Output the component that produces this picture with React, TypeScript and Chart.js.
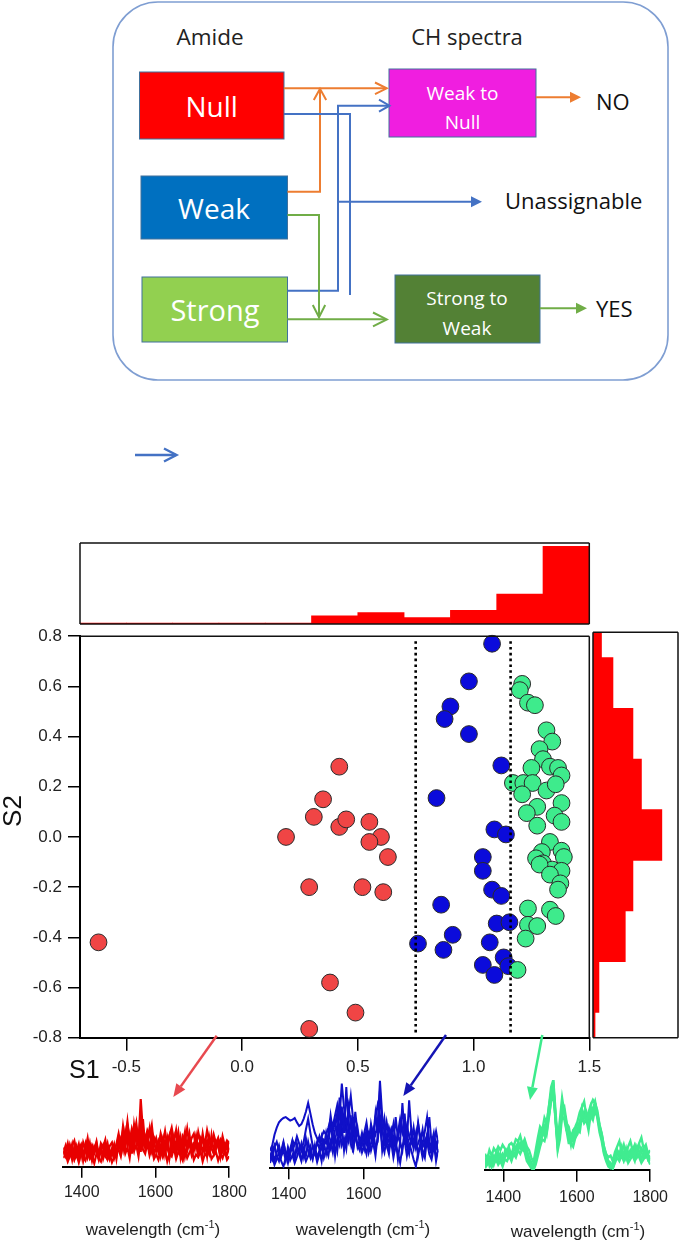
import React, { useEffect, useRef } from 'react';
import { Chart, registerables } from 'chart.js';

Chart.register(...registerables);

// ---------------- Scatter data (S1 vs S2) ----------------
const RED_S1 = [0.42, 0.35, 0.31, 0.42, 0.45, 0.19, 0.55, 0.60, 0.55, 0.63, 0.52, 0.61, 0.29, -0.62, 0.38, 0.29, 0.49];
const RED_S2 = [0.28, 0.15, 0.08, 0.04, 0.07, 0.00, 0.06, 0.00, -0.02, -0.08, -0.20, -0.22, -0.20, -0.42, -0.58, -0.765, -0.70];

const BLUE_S1 = [1.08, 0.98, 0.90, 0.875, 0.98, 1.12, 0.84, 1.09, 1.14, 1.04, 1.04, 1.08, 1.12, 0.86, 1.10, 1.155, 0.91, 0.76, 0.87, 1.07, 1.13, 1.04, 1.15, 1.09];
const BLUE_S2 = [0.77, 0.62, 0.52, 0.47, 0.41, 0.285, 0.155, 0.03, 0.01, -0.08, -0.135, -0.21, -0.235, -0.27, -0.345, -0.34, -0.39, -0.425, -0.45, -0.42, -0.48, -0.51, -0.515, -0.55];

const GREEN_S1 = [1.21, 1.20, 1.235, 1.265, 1.315, 1.34, 1.285, 1.30, 1.25, 1.33, 1.365, 1.38, 1.17, 1.215, 1.255, 1.315, 1.355, 1.21, 1.38, 1.275, 1.23, 1.35, 1.38, 1.275, 1.33, 1.38, 1.295, 1.27, 1.39, 1.30, 1.34, 1.38, 1.285, 1.33, 1.375, 1.365, 1.235, 1.33, 1.355, 1.235, 1.275, 1.225, 1.19];
const GREEN_S2 = [0.61, 0.585, 0.535, 0.525, 0.425, 0.38, 0.35, 0.31, 0.275, 0.28, 0.275, 0.245, 0.215, 0.215, 0.215, 0.185, 0.21, 0.17, 0.135, 0.12, 0.095, 0.085, 0.06, 0.045, -0.02, -0.055, -0.06, -0.085, -0.08, -0.105, -0.13, -0.135, -0.11, -0.15, -0.185, -0.21, -0.285, -0.29, -0.315, -0.35, -0.355, -0.405, -0.53];

const S1_RANGE = [-0.7, 1.5];
const S2_RANGE = [-0.8, 0.8];
const S1_TICKS = [-0.5, 0, 0.5, 1.0, 1.5];
const S2_TICKS = [-0.8, -0.6, -0.4, -0.2, 0, 0.2, 0.4, 0.6, 0.8];
const DIVIDER_S1 = [0.75, 1.16];
const DIVIDER_S2_SPAN = [0.78, -0.78];

// ---------------- Marginal histograms ----------------
const TOP_HIST_CENTERS = [-0.6, -0.4, -0.2, 0, 0.2, 0.4, 0.6, 0.8, 1.0, 1.2, 1.4];
const TOP_HIST_HEIGHTS = [1.2, 1.2, 1.2, 1.2, 1.2, 10, 14, 8, 17, 37, 96];
const RIGHT_HIST_CENTERS = [0.8, 0.6, 0.4, 0.2, 0, -0.2, -0.4, -0.6, -0.8];
const RIGHT_HIST_WIDTHS = [10, 23.5, 47, 57, 81, 47, 38, 7, 2.4];

// ---------------- Spectra ----------------
const WAVENUMBERS = [
  1350, 1356, 1362, 1368, 1374, 1380, 1386, 1392, 1398, 1404,
  1410, 1416, 1422, 1428, 1434, 1440, 1446, 1452, 1458, 1464,
  1470, 1476, 1482, 1488, 1494, 1500, 1506, 1512, 1518, 1524,
  1530, 1536, 1542, 1548, 1554, 1560, 1566, 1572, 1578, 1584,
  1590, 1596, 1602, 1608, 1614, 1620, 1626, 1632, 1638, 1644,
  1650, 1656, 1662, 1668, 1674, 1680, 1686, 1692, 1698, 1704,
  1710, 1716, 1722, 1728, 1734, 1740, 1746, 1752, 1758, 1764,
  1770, 1776, 1782, 1788, 1794, 1800,
];
const SPEC_RANGE = [1350, 1800];
const SPEC_TICKS_FULL = [1400, 1600, 1800];
const SPEC_TICKS_SHORT = [1400, 1600];

const RED_SPEC_A = [22, 18, 27, 14, 24, 30, 17, 26, 12, 28, 20, 33, 16, 25, 19, 29, 13, 27, 22, 31, 15, 24, 28, 17, 26, 38, 24, 47, 30, 52, 28, 44, 35, 50, 26, 78, 40, 30, 42, 36, 48, 25, 33, 22, 38, 27, 41, 24, 36, 45, 30, 26, 40, 21, 35, 29, 44, 25, 33, 38, 22, 40, 28, 34, 26, 42, 30, 23, 37, 27, 33, 20, 35, 24, 30, 26];
const RED_SPEC_B = [10, 15, 6, 12, 18, 8, 14, 5, 16, 11, 7, 17, 9, 13, 4, 15, 10, 6, 18, 12, 8, 14, 5, 11, 16, 20, 12, 28, 15, 22, 10, 30, 18, 25, 12, 34, 20, 15, 27, 13, 22, 9, 14, 8, 18, 11, 20, 6, 15, 12, 22, 9, 17, 13, 7, 19, 10, 16, 21, 8, 14, 11, 18, 6, 15, 12, 20, 9, 13, 17, 7, 15, 10, 18, 8, 12];
const RED_SPEC_C = [16, 24, 11, 20, 8, 22, 13, 19, 25, 9, 21, 14, 27, 11, 23, 17, 8, 20, 14, 25, 10, 19, 13, 23, 9, 30, 17, 36, 22, 44, 19, 33, 26, 40, 21, 46, 28, 22, 35, 18, 31, 14, 24, 30, 13, 27, 18, 32, 10, 26, 35, 15, 28, 20, 31, 12, 25, 38, 17, 27, 30, 14, 23, 33, 19, 26, 16, 36, 18, 24, 28, 13, 22, 16, 27, 19];
const RED_SPEC_D = [14, 20, 9, 25, 16, 12, 23, 8, 19, 14, 26, 11, 20, 7, 17, 24, 12, 22, 9, 18, 27, 13, 21, 10, 19, 26, 33, 20, 40, 25, 36, 15, 48, 30, 38, 17, 55, 24, 34, 20, 41, 28, 18, 26, 35, 16, 30, 22, 14, 37, 24, 19, 33, 11, 26, 40, 18, 29, 14, 24, 36, 20, 31, 16, 27, 12, 34, 21, 15, 29, 24, 11, 28, 19, 14, 22];
const RED_SPEC_E = [18, 12, 22, 16, 26, 10, 20, 15, 23, 7, 18, 24, 13, 21, 16, 27, 11, 19, 25, 14, 22, 9, 17, 26, 13, 34, 21, 42, 27, 48, 33, 39, 22, 45, 30, 60, 25, 36, 30, 44, 20, 34, 28, 16, 24, 33, 14, 28, 36, 19, 29, 42, 21, 34, 15, 28, 22, 33, 27, 18, 31, 25, 20, 38, 22, 30, 17, 27, 33, 20, 26, 31, 18, 25, 20, 30];

const BLUE_SPEC_A = [20, 26, 38, 46, 52, 55, 57, 58, 56, 54, 55, 57, 52, 48, 50, 56, 64, 74, 62, 50, 40, 34, 30, 36, 42, 38, 46, 55, 48, 60, 72, 58, 96, 68, 50, 62, 82, 56, 44, 38, 34, 30, 36, 28, 40, 34, 45, 38, 50, 99, 60, 42, 35, 30, 40, 33, 28, 36, 30, 74, 38, 26, 34, 44, 30, 22, 28, 36, 24, 30, 38, 26, 20, 30, 42, 28];
const BLUE_SPEC_B = [12, 22, 8, 18, 26, 14, 20, 9, 24, 16, 30, 12, 22, 18, 28, 14, 34, 20, 12, 26, 18, 30, 22, 36, 24, 40, 26, 52, 30, 44, 64, 36, 70, 40, 92, 48, 30, 58, 34, 46, 28, 40, 30, 44, 26, 50, 36, 62, 40, 88, 46, 30, 52, 36, 44, 28, 58, 34, 48, 40, 62, 30, 77, 42, 26, 38, 50, 30, 44, 24, 36, 58, 28, 40, 22, 32];
const BLUE_SPEC_C = [6, 14, 4, 10, 18, 8, 2, 12, 20, 9, 15, 6, 13, 22, 10, 17, 8, 14, 24, 11, 19, 7, 16, 26, 12, 22, 14, 30, 18, 36, 20, 44, 26, 34, 22, 50, 28, 20, 40, 24, 32, 18, 26, 16, 34, 20, 30, 14, 38, 46, 28, 18, 34, 22, 30, 12, 26, 18, 6, 24, 32, 14, 28, 20, 10, 2, 18, 26, 12, 22, 30, 16, 10, 24, 14, 20];
const BLUE_SPEC_D = [16, 10, 24, 30, 20, 14, 28, 18, 10, 22, 32, 26, 36, 28, 20, 30, 44, 56, 40, 26, 20, 28, 36, 24, 32, 28, 38, 60, 42, 54, 36, 80, 48, 62, 40, 70, 52, 36, 64, 40, 30, 26, 40, 52, 34, 46, 30, 58, 72, 60, 40, 56, 30, 46, 36, 50, 26, 40, 56, 44, 34, 48, 36, 30, 46, 26, 52, 34, 28, 42, 58, 30, 24, 36, 30, 18];
const BLUE_SPEC_E = [10, 18, 26, 14, 8, 20, 30, 16, 6, 18, 24, 10, 28, 16, 8, 22, 14, 30, 18, 10, 26, 12, 20, 8, 28, 16, 30, 22, 40, 14, 34, 26, 48, 20, 38, 30, 60, 18, 42, 26, 20, 34, 22, 38, 18, 28, 42, 24, 30, 60, 20, 36, 26, 16, 40, 22, 34, 10, 30, 20, 44, 26, 16, 34, 22, 38, 14, 28, 20, 12, 34, 24, 16, 30, 8, 22];

const GREEN_SPEC_A = [8, 14, 5, 12, 16, 10, 14, 18, 12, 16, 20, 14, 18, 22, 26, 30, 28, 24, 32, 22, 12, 6, 1, 10, 24, 36, 42, 48, 40, 58, 78, 96, 60, 28, 44, 72, 62, 50, 38, 34, 40, 36, 40, 52, 66, 60, 54, 62, 58, 68, 76, 62, 48, 38, 22, 14, 10, 8, 2, 10, 22, 16, 24, 18, 12, 20, 14, 22, 16, 24, 28, 20, 14, 22, 12, 16];
const GREEN_SPEC_B = [18, 12, 22, 16, 24, 20, 26, 22, 28, 24, 20, 28, 30, 26, 34, 32, 38, 28, 34, 26, 22, 14, 8, 22, 36, 48, 44, 58, 52, 70, 86, 92, 58, 32, 56, 80, 64, 52, 48, 36, 44, 48, 54, 64, 70, 76, 60, 64, 72, 78, 74, 62, 50, 40, 26, 18, 14, 16, 10, 20, 26, 32, 20, 28, 18, 26, 32, 22, 28, 20, 30, 36, 24, 28, 18, 22];
const GREEN_SPEC_C = [4, 10, 14, 7, 12, 18, 10, 16, 8, 20, 16, 24, 16, 26, 20, 28, 24, 30, 26, 14, 10, 4, 0, 12, 22, 32, 44, 38, 50, 70, 92, 100, 66, 30, 40, 66, 70, 54, 36, 38, 32, 44, 52, 48, 68, 58, 64, 50, 70, 62, 74, 66, 50, 40, 26, 16, 8, 4, 6, 12, 20, 14, 22, 16, 24, 12, 18, 22, 16, 26, 20, 12, 18, 24, 18, 10];
const GREEN_SPEC_D = [14, 8, 10, 16, 6, 14, 20, 12, 18, 14, 22, 18, 12, 20, 16, 22, 30, 26, 22, 20, 14, 8, 3, 18, 26, 44, 38, 46, 56, 60, 76, 86, 56, 26, 46, 64, 66, 44, 40, 28, 42, 38, 44, 54, 58, 64, 56, 54, 62, 68, 64, 60, 46, 36, 20, 12, 8, 6, 2, 16, 22, 18, 26, 12, 20, 16, 22, 18, 26, 14, 18, 24, 20, 14, 16, 12];
const GREEN_SPEC_E = [2, 6, 8, 3, 8, 12, 6, 10, 4, 12, 10, 16, 10, 18, 14, 22, 18, 24, 20, 10, 6, 2, 0, 6, 16, 26, 34, 32, 42, 62, 84, 94, 58, 22, 34, 60, 56, 44, 30, 30, 26, 36, 44, 42, 60, 52, 56, 44, 62, 56, 68, 58, 42, 32, 18, 10, 4, 2, 2, 8, 14, 10, 16, 10, 18, 8, 12, 16, 10, 20, 14, 8, 12, 18, 12, 6];

// ---------------- Styles ----------------
const TICK_FONT = "'Liberation Sans', Arial, sans-serif";
const FLOW_FONT = "'Open Sans', sans-serif";
const RED_PT = '#F04545';
const BLUE_PT = '#0B0BDB';
const GREEN_PT = '#3EEB8C';
const HIST_RED = '#FF0000';

type Box = { x: number; y: number; w: number; h: number; padL: number; padR: number; padT: number; padB: number };

function makeBox(L: number, R: number, T: number, B: number, pl: number, pr: number, pt: number, pb: number): Box {
  const x = Math.floor(L - pl);
  const y = Math.floor(T - pt);
  const w = Math.ceil(R + pr) - x;
  const h = Math.ceil(B + pb) - y;
  return { x, y, w, h, padL: L - x, padR: x + w - R, padT: T - y, padB: y + h - B };
}

const pts = (xs: number[], ys: number[]) => xs.map((x, i) => ({ x, y: ys[i] }));

const framePlugin = (sides: string[]) => ({
  id: 'frame',
  afterDraw(chart: any) {
    const { ctx, chartArea } = chart;
    const { left, right, top, bottom } = chartArea;
    ctx.save();
    ctx.strokeStyle = '#111';
    ctx.lineWidth = 1.5;
    ctx.beginPath();
    if (sides.includes('top')) { ctx.moveTo(left, top); ctx.lineTo(right, top); }
    if (sides.includes('right')) { ctx.moveTo(right, top); ctx.lineTo(right, bottom); }
    if (sides.includes('bottom')) { ctx.moveTo(left, bottom); ctx.lineTo(right, bottom); }
    if (sides.includes('left')) { ctx.moveTo(left, top); ctx.lineTo(left, bottom); }
    ctx.stroke();
    ctx.restore();
  },
});

const baseOptions = {
  animation: false as const,
  responsive: false,
  maintainAspectRatio: false,
  events: [] as any[],
  plugins: { legend: { display: false }, tooltip: { enabled: false } },
};

function mainConfig(b: Box): any {
  const pointDs = (label: string, xs: number[], ys: number[], color: string, order: number) => ({
    label, data: pts(xs, ys), backgroundColor: color, borderColor: '#2a2a2a', borderWidth: 1,
    pointRadius: 8.4, pointHoverRadius: 8.4, order, clip: false,
  });
  const divider = (x: number) => ({
    label: 'divider', data: [{ x, y: DIVIDER_S2_SPAN[0] }, { x, y: DIVIDER_S2_SPAN[1] }],
    showLine: true, borderColor: '#000', borderWidth: 2.6, borderDash: [2.6, 3.2], pointRadius: 0, order: 0, fill: false,
  });
  return {
    type: 'scatter',
    data: {
      datasets: [
        divider(DIVIDER_S1[0]), divider(DIVIDER_S1[1]),
        pointDs('Strong', GREEN_S1, GREEN_S2, GREEN_PT, 1),
        pointDs('Weak', BLUE_S1, BLUE_S2, BLUE_PT, 2),
        pointDs('Null', RED_S1, RED_S2, RED_PT, 3),
      ],
    },
    options: {
      ...baseOptions,
      layout: { padding: { left: 0, right: b.padR, top: b.padT, bottom: 0 } },
      scales: {
        x: {
          type: 'linear', min: S1_RANGE[0], max: S1_RANGE[1], offset: false,
          afterBuildTicks: (s: any) => { s.ticks = S1_TICKS.map((v) => ({ value: v })); },
          afterFit: (s: any) => { s.height = b.padB; },
          ticks: { callback: (v: any) => Number(v).toFixed(1), font: { family: TICK_FONT, size: 17 }, color: '#222', padding: 6, maxRotation: 0, autoSkip: false },
          grid: { drawOnChartArea: false, tickLength: 13, color: '#000', lineWidth: 1.5 },
          border: { color: '#000', width: 2 },
        },
        y: {
          type: 'linear', min: S2_RANGE[0], max: S2_RANGE[1],
          afterBuildTicks: (s: any) => { s.ticks = S2_TICKS.map((v) => ({ value: v })); },
          afterFit: (s: any) => { s.width = b.padL; },
          ticks: { callback: (v: any) => Number(v).toFixed(1), font: { family: TICK_FONT, size: 17 }, color: '#222', padding: 6, autoSkip: false },
          grid: { drawOnChartArea: false, tickLength: 12, color: '#000', lineWidth: 1.5 },
          border: { color: '#000', width: 2 },
        },
      },
    },
    plugins: [framePlugin(['top', 'right'])],
  };
}

function topHistConfig(b: Box): any {
  return {
    type: 'bar',
    data: { datasets: [{ data: pts(TOP_HIST_CENTERS, TOP_HIST_HEIGHTS), backgroundColor: HIST_RED, borderWidth: 0, barPercentage: 1, categoryPercentage: 1 }] },
    options: {
      ...baseOptions,
      layout: { padding: { left: b.padL, right: b.padR, top: b.padT, bottom: b.padB } },
      scales: {
        x: { type: 'linear', min: S1_RANGE[0], max: S1_RANGE[1], offset: false, display: false },
        y: { type: 'linear', min: 0, max: 100, display: false },
      },
    },
    plugins: [framePlugin(['top', 'right', 'bottom', 'left'])],
  };
}

function rightHistConfig(b: Box): any {
  return {
    type: 'bar',
    data: { datasets: [{ data: RIGHT_HIST_CENTERS.map((c, i) => ({ y: c, x: RIGHT_HIST_WIDTHS[i] })), backgroundColor: HIST_RED, borderWidth: 0, barPercentage: 1, categoryPercentage: 1 }] },
    options: {
      ...baseOptions,
      indexAxis: 'y',
      layout: { padding: { left: b.padL, right: b.padR, top: b.padT, bottom: b.padB } },
      scales: {
        y: { type: 'linear', min: S2_RANGE[0], max: S2_RANGE[1], offset: false, display: false },
        x: { type: 'linear', min: 0, max: 100, display: false },
      },
    },
    plugins: [framePlugin(['top', 'right', 'bottom', 'left'])],
  };
}

function spectrumConfig(series: number[][], color: string, lineWidth: number, ticks: number[], tickLen: number, tickPad: number) {
  return (b: Box): any => ({
    type: 'line',
    data: {
      datasets: series.map((vals) => ({
        data: pts(WAVENUMBERS, vals), borderColor: color, borderWidth: lineWidth, pointRadius: 0, tension: 0, fill: false,
      })),
    },
    options: {
      ...baseOptions,
      layout: { padding: { left: b.padL, right: b.padR, top: b.padT, bottom: 0 } },
      scales: {
        x: {
          type: 'linear', min: SPEC_RANGE[0], max: SPEC_RANGE[1],
          afterBuildTicks: (s: any) => { s.ticks = ticks.map((v) => ({ value: v })); },
          afterFit: (s: any) => { s.height = b.padB; },
          ticks: { callback: (v: any) => String(v), font: { family: TICK_FONT, size: 16 }, color: '#222', padding: tickPad, maxRotation: 0, autoSkip: false },
          grid: { drawOnChartArea: false, tickLength: tickLen, color: '#000', lineWidth: 1.5 },
          border: { color: '#000', width: 2 },
        },
        y: { type: 'linear', min: 0, max: 100, display: false },
      },
    },
  });
}

function ChartCanvas({ box, build }: { box: Box; build: (b: Box) => any }) {
  const ref = useRef<HTMLCanvasElement>(null);
  useEffect(() => {
    const chart = new Chart(ref.current as HTMLCanvasElement, build(box));
    return () => chart.destroy();
  }, []);
  return (
    <canvas
      ref={ref}
      width={box.w}
      height={box.h}
      style={{ position: 'absolute', left: box.x, top: box.y, width: box.w, height: box.h }}
    />
  );
}

// ---------------- layout boxes ----------------
const MAIN_BOX = makeBox(80, 589.3, 632.3, 1037.7, 80, 20, 12, 52);
const TOP_HIST_BOX = makeBox(80, 589.3, 543, 624, 10, 10, 10, 10);
const RIGHT_HIST_BOX = makeBox(593, 678, 632.3, 1037.7, 6, 6, 10, 10);
const RED_SPEC_BOX = makeBox(63.3, 231.7, 1080, 1166.7, 20, 20, 4, 42);
const BLUE_SPEC_BOX = makeBox(270, 438.3, 1080, 1168.3, 20, 20, 4, 42);
const GREEN_SPEC_BOX = makeBox(485, 653.3, 1080, 1170, 20, 20, 4, 42);

function headPoints(x1: number, y1: number, x2: number, y2: number, len: number, half: number) {
  const dx = x2 - x1, dy = y2 - y1;
  const d = Math.hypot(dx, dy);
  const ux = dx / d, uy = dy / d;
  const bx = x2 - ux * len, by = y2 - uy * len;
  return { base: [bx, by], poly: `${x2},${y2} ${bx - uy * half},${by + ux * half} ${bx + uy * half},${by - ux * half}` };
}

function SolidArrow({ x1, y1, x2, y2, color, width, len, half }: any) {
  const h = headPoints(x1, y1, x2, y2, len, half);
  return (
    <g>
      <line x1={x1} y1={y1} x2={h.base[0]} y2={h.base[1]} stroke={color} strokeWidth={width} />
      <polygon points={h.poly} fill={color} />
    </g>
  );
}

function FlowChart() {
  const ORANGE = '#ED7D31';
  const BLUE = '#4472C4';
  const GREEN = '#70AD47';
  const boxStroke = '#41719C';
  const white = '#FFFFFF';
  return (
    <svg width={685} height={480} style={{ position: 'absolute', left: 0, top: 0 }}>
      <rect x={113} y={2} width={555} height={378} rx={45} ry={45} fill="none" stroke="#7F9ED2" strokeWidth={1.6} />
      <text x={210} y={36} fontFamily={FLOW_FONT} fontSize={22.5} fill="#222" textAnchor="middle" dominantBaseline="central">Amide</text>
      <text x={467} y={36} fontFamily={FLOW_FONT} fontSize={22} fill="#222" textAnchor="middle" dominantBaseline="central">CH spectra</text>

      <rect x={139.5} y={72} width={144.5} height={67} fill="#FF0000" stroke={boxStroke} strokeWidth={1} />
      <text x={211.7} y={106} fontFamily={FLOW_FONT} fontSize={28} fill={white} textAnchor="middle" dominantBaseline="central">Null</text>
      <rect x={141} y={176} width={146.5} height={63} fill="#0070C0" stroke={boxStroke} strokeWidth={1} />
      <text x={214} y={208} fontFamily={FLOW_FONT} fontSize={28} fill={white} textAnchor="middle" dominantBaseline="central">Weak</text>
      <rect x={142} y={277} width={145.5} height={65} fill="#92D050" stroke={boxStroke} strokeWidth={1} />
      <text x={215} y={309} fontFamily={FLOW_FONT} fontSize={29} fill={white} textAnchor="middle" dominantBaseline="central">Strong</text>

      <rect x={389} y={69} width={147} height={68} fill="#F01EE0" stroke={boxStroke} strokeWidth={1} />
      <text x={462.5} y={93} fontFamily={FLOW_FONT} fontSize={19} fill={white} textAnchor="middle" dominantBaseline="central">Weak to</text>
      <text x={462.5} y={122} fontFamily={FLOW_FONT} fontSize={19} fill={white} textAnchor="middle" dominantBaseline="central">Null</text>
      <rect x={395} y={275} width={145} height={68} fill="#538135" stroke={boxStroke} strokeWidth={1} />
      <text x={467} y={298} fontFamily={FLOW_FONT} fontSize={19} fill={white} textAnchor="middle" dominantBaseline="central">Strong to</text>
      <text x={467} y={328} fontFamily={FLOW_FONT} fontSize={19} fill={white} textAnchor="middle" dominantBaseline="central">Weak</text>

      <text x={596} y={101} fontFamily={FLOW_FONT} fontSize={22} fill="#111" dominantBaseline="central">NO</text>
      <text x={505} y={200} fontFamily={FLOW_FONT} fontSize={22} fill="#111" dominantBaseline="central">Unassignable</text>
      <text x={596} y={308} fontFamily={FLOW_FONT} fontSize={22} fill="#111" dominantBaseline="central">YES</text>

      <g fill="none" strokeWidth={2}>
        <path d="M284 88.3 H386" stroke={ORANGE} />
        <path d="M375 82.5 L386.7 88.3 L375 94.1" stroke={ORANGE} />
        <path d="M287.5 191.7 H320 V89.5" stroke={ORANGE} />
        <path d="M313.8 100 L320 88.8 L326.2 100" stroke={ORANGE} />
        <path d="M284 114 H350 V295" stroke={BLUE} />
        <path d="M287.5 290.7 H338 V105.7 H389" stroke={BLUE} />
        <path d="M379 99.7 L389.5 105.7 L379 111.7" stroke={BLUE} />
        <path d="M338 201.7 H472" stroke={BLUE} />
        <path d="M287.5 215 H319 V317" stroke={GREEN} />
        <path d="M312.8 305 L319 317.3 L325.2 305" stroke={GREEN} />
        <path d="M287.5 319.3 H386" stroke={GREEN} />
        <path d="M373 312.5 L386.8 319.4 L373 326.3" stroke={GREEN} />
        <path d="M536 97.3 H571" stroke={ORANGE} />
        <path d="M540 308.3 H577" stroke={GREEN} />
        <path d="M135 455 H176" stroke="#4472C4" strokeWidth={2.4} />
        <path d="M164 448.5 L176.5 455 L164 461.5" stroke="#4472C4" strokeWidth={2.4} />
      </g>
      <polygon points="570,91.8 581,97.3 570,102.8" fill={ORANGE} />
      <polygon points="471,196.2 482,201.7 471,207.2" fill={BLUE} />
      <polygon points="576,302.8 587,308.3 576,313.8" fill={GREEN} />
    </svg>
  );
}

function WavelengthLabel({ cx, cy }: { cx: number; cy: number }) {
  return (
    <div style={{ position: 'absolute', left: cx - 100, top: cy - 10, width: 200, textAlign: 'center', fontFamily: TICK_FONT, fontSize: 17, lineHeight: '20px', color: '#222', whiteSpace: 'nowrap' }}>
      wavelength (cm<span style={{ fontSize: 11, position: 'relative', top: -7 }}>-1</span>)
    </div>
  );
}

export default function App() {
  return (
    <div style={{ position: 'absolute', left: 0, top: 0, width: 685, height: 1241, background: '#fff', overflow: 'hidden' }}>
      <FlowChart />
      <ChartCanvas box={TOP_HIST_BOX} build={topHistConfig} />
      <ChartCanvas box={MAIN_BOX} build={mainConfig} />
      <ChartCanvas box={RIGHT_HIST_BOX} build={rightHistConfig} />
      <ChartCanvas box={RED_SPEC_BOX} build={spectrumConfig([RED_SPEC_A, RED_SPEC_B, RED_SPEC_C, RED_SPEC_D, RED_SPEC_E], '#E80000', 2.2, SPEC_TICKS_FULL, 11, 5)} />
      <ChartCanvas box={BLUE_SPEC_BOX} build={spectrumConfig([BLUE_SPEC_A, BLUE_SPEC_B, BLUE_SPEC_C, BLUE_SPEC_D, BLUE_SPEC_E], '#1010C8', 2, SPEC_TICKS_SHORT, 11, 5.5)} />
      <ChartCanvas box={GREEN_SPEC_BOX} build={spectrumConfig([GREEN_SPEC_A, GREEN_SPEC_B, GREEN_SPEC_C, GREEN_SPEC_D, GREEN_SPEC_E], '#40EC90', 2.4, SPEC_TICKS_FULL, 11.7, 6)} />

      <div style={{ position: 'absolute', left: 69, top: 1056, fontFamily: TICK_FONT, fontSize: 25, lineHeight: '26px', color: '#111' }}>S1</div>
      <div style={{ position: 'absolute', left: 12 - 25, top: 811 - 15, width: 50, height: 30, textAlign: 'center', fontFamily: TICK_FONT, fontSize: 26, lineHeight: '30px', color: '#111', transform: 'rotate(-90deg)' }}>S2</div>

      <WavelengthLabel cx={153} cy={1230} />
      <WavelengthLabel cx={363} cy={1230} />
      <WavelengthLabel cx={578} cy={1231.5} />

      <svg width={685} height={1241} style={{ position: 'absolute', left: 0, top: 0, pointerEvents: 'none' }}>
        <SolidArrow x1={216.7} y1={1035.7} x2={173.3} y2={1097} color="#E8494F" width={2.5} len={13} half={5.5} />
        <SolidArrow x1={446} y1={1035} x2={403.3} y2={1096} color="#1414B4" width={2.5} len={13} half={5.5} />
        <SolidArrow x1={542.3} y1={1035} x2={530} y2={1100} color="#3DEB8C" width={2.5} len={13} half={5.5} />
      </svg>
    </div>
  );
}
